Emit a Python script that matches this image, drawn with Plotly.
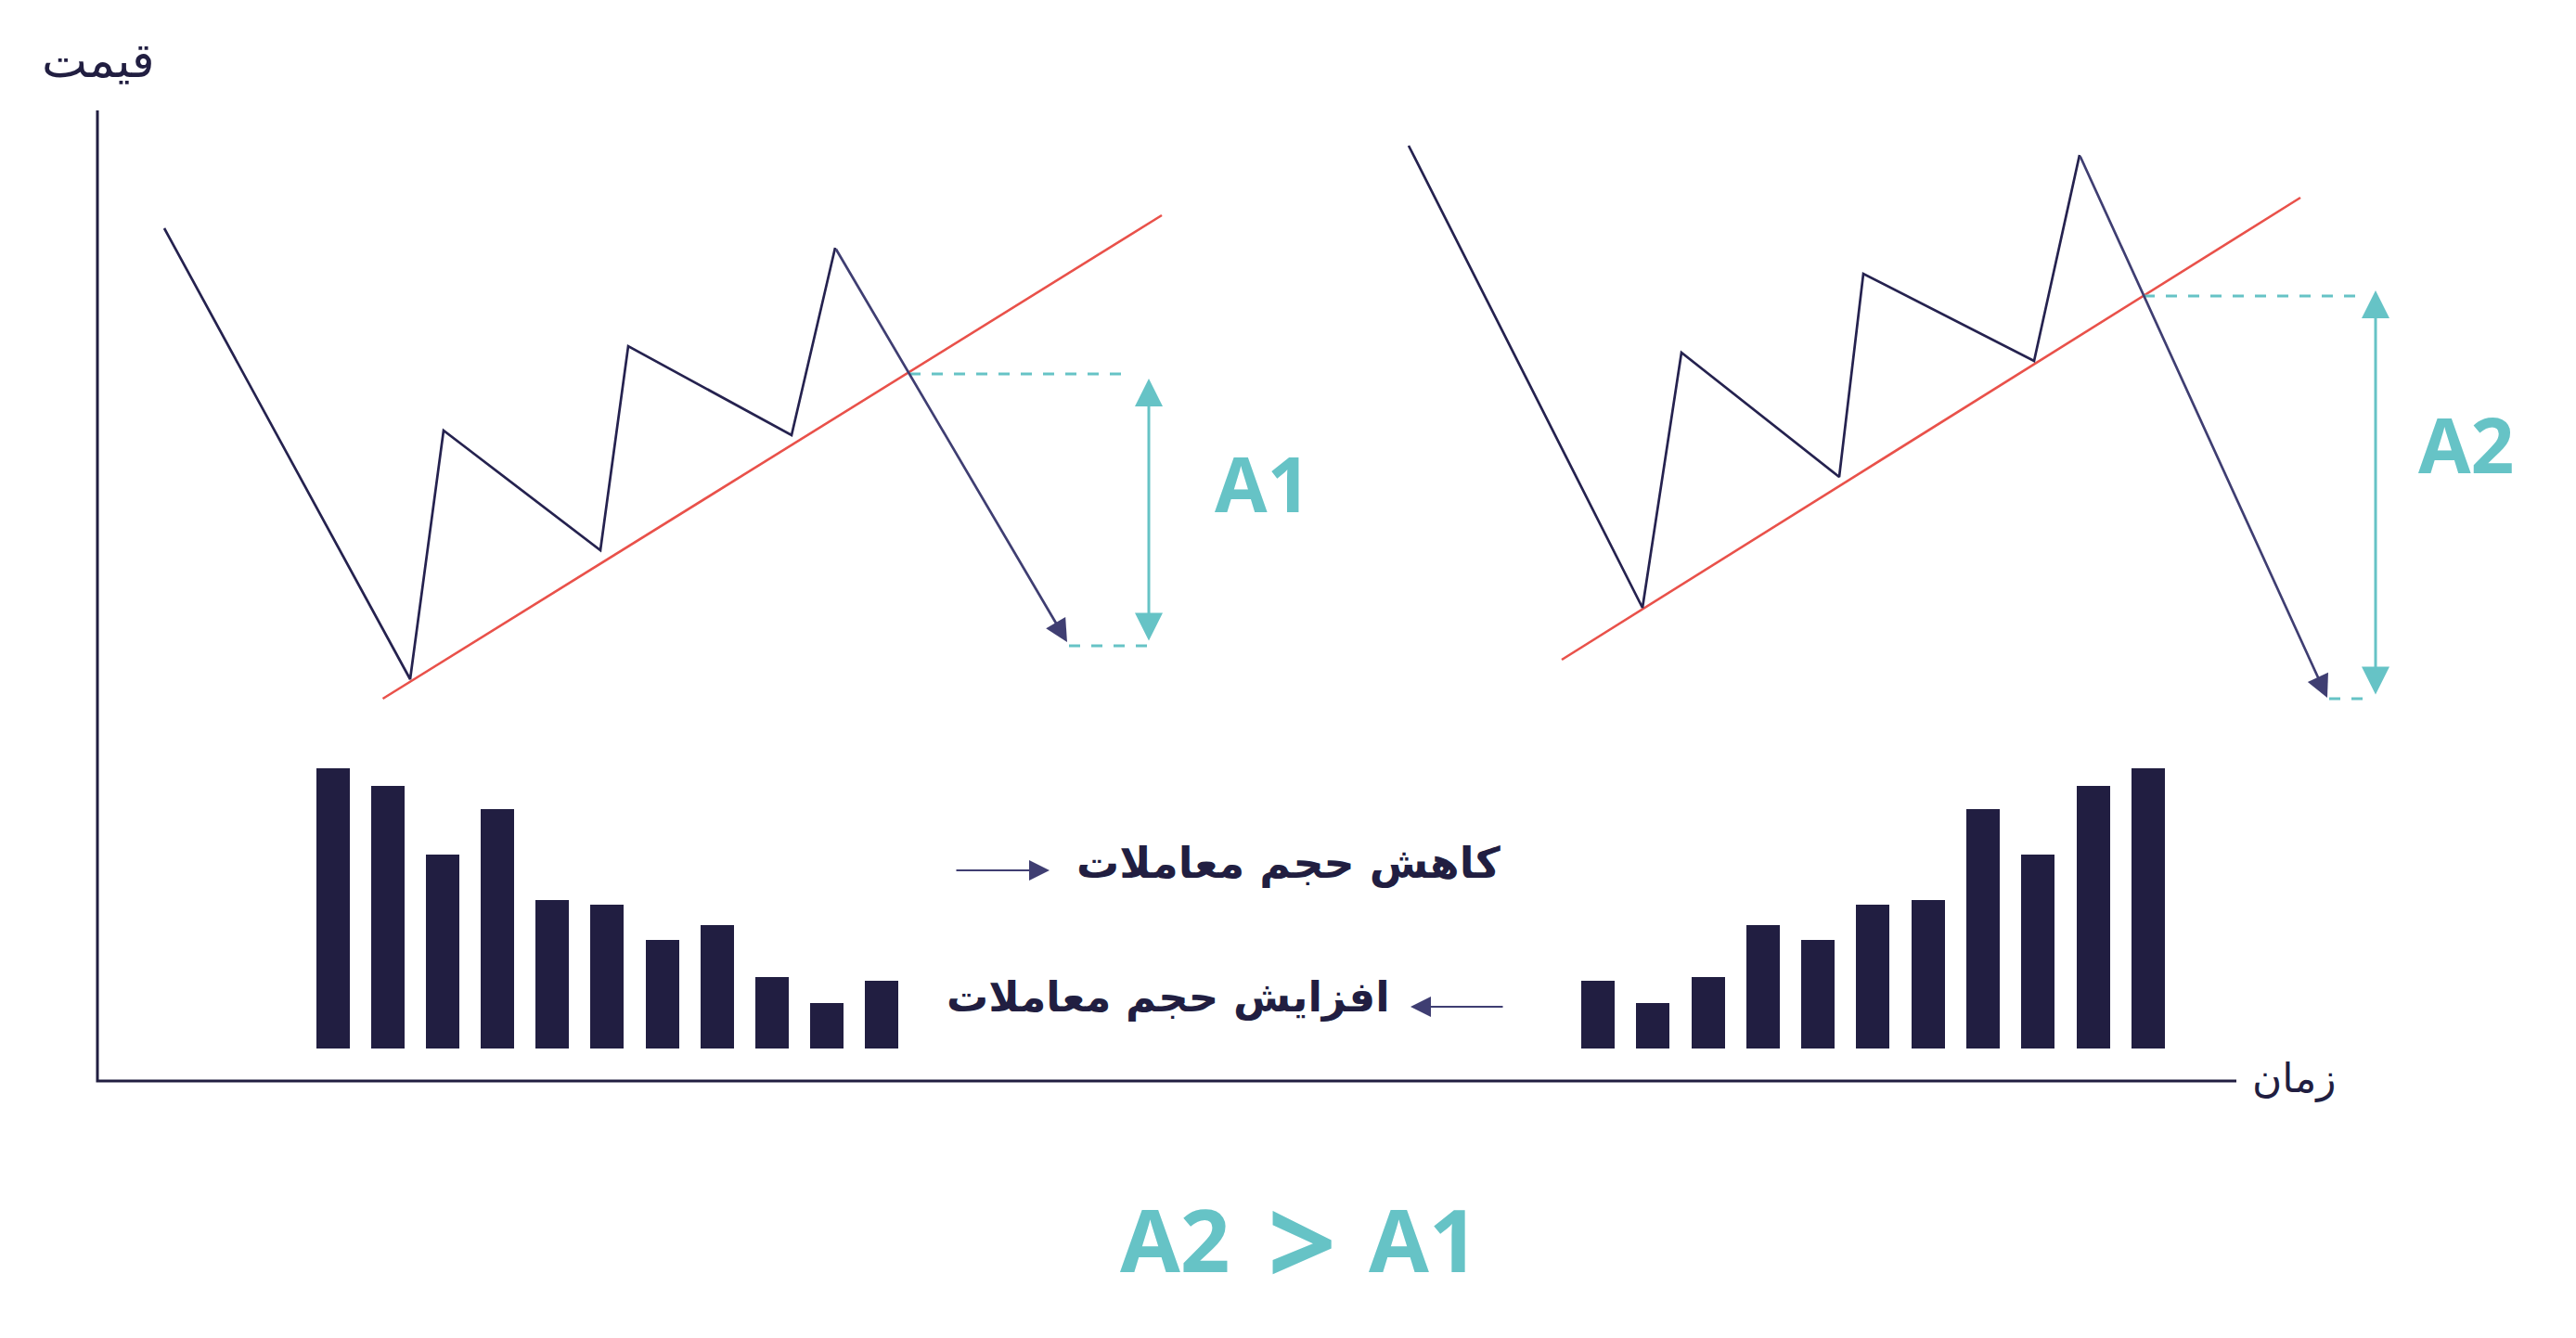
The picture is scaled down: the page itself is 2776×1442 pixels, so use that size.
import plotly.graph_objects as go

# ---- colours ----
NAVY = "#211e41"
LINE_NAVY = "#25224f"
HEAD_NAVY = "#3f3e72"
RED = "#e9514a"
TEAL = "#66c3c6"

# ---- axes extents (time / price units) ----
axis_x_time = [0, 0, 230.5]
axis_x_price = [104.6, 0, 0]

# ---- price paths ----
left_time = [7.2, 33.7, 37.3, 54.2, 57.2, 74.8, 79.5, 104.5]
left_price = [91.9, 43.3, 70.1, 57.2, 79.2, 69.6, 89.8, 47.3]
right_time = [141.3, 166.5, 170.7, 187.7, 190.3, 208.7, 213.6, 240.3]
right_price = [100.8, 51.0, 78.5, 65.1, 87.0, 77.6, 99.8, 41.3]

# ---- trend lines ----
left_trend_time = [30.75, 114.7]
left_trend_price = [41.2, 93.3]
right_trend_time = [157.8, 237.4]
right_trend_price = [45.4, 95.2]

# ---- target measurement (A1 / A2) ----
left_top_dash_time = [87.5, 111.0]
left_top_dash_price = [76.2, 76.2]
left_bot_dash_time = [104.7, 113.3]
left_bot_dash_price = [46.9, 46.9]
left_span_time = 113.3
left_span_price = [75.7, 47.3]

right_top_dash_time = [220.5, 243.7]
right_top_dash_price = [84.6, 84.6]
right_bot_dash_time = [240.5, 245.1]
right_bot_dash_price = [41.2, 41.2]
right_span_time = 245.5
right_span_price = [85.2, 41.5]

# ---- volume bars ----
vol_base = 3.5
left_vol_time = [25.4, 31.3, 37.2, 43.1, 49.0, 54.9, 60.9, 66.8, 72.7, 78.6, 84.5]
left_vol = [30.2, 28.3, 20.9, 25.8, 16.0, 15.5, 11.7, 13.3, 7.7, 4.9, 7.3]
right_vol_time = [161.7, 167.6, 173.6, 179.5, 185.4, 191.3, 197.3, 203.2, 209.1, 215.1, 221.0]
right_vol = [7.3, 4.9, 7.7, 13.3, 11.7, 15.5, 16.0, 25.8, 20.9, 28.3, 30.2]

# ---- labels ----
y_label = "قیمت"
x_label = "زمان"
label_dec = "کاهش حجم معاملات"
label_inc = "افزایش حجم معاملات"
dec_arrow_time = [92.4, 102.6]
dec_arrow_price = 22.7
inc_arrow_time = [151.6, 141.5]
inc_arrow_price = 8.0
compare_text = ["A2", "&gt;", "A1"]
compare_time = [116.1, 129.8, 142.9]

fig = go.Figure()

# axes
fig.add_trace(go.Scatter(x=axis_x_time, y=axis_x_price, mode="lines",
                         line=dict(color=NAVY, width=3), hoverinfo="skip"))

# volume
for xs, ys in ((left_vol_time, left_vol), (right_vol_time, right_vol)):
    fig.add_trace(go.Bar(x=xs, y=ys, base=vol_base, width=3.6,
                         marker=dict(color=NAVY, line=dict(width=0))))

# trend lines
for xs, ys in ((left_trend_time, left_trend_price), (right_trend_time, right_trend_price)):
    fig.add_trace(go.Scatter(x=xs, y=ys, mode="lines",
                             line=dict(color=RED, width=2.6), hoverinfo="skip"))

# dashed guides
for xs, ys in ((left_top_dash_time, left_top_dash_price), (left_bot_dash_time, left_bot_dash_price),
               (right_top_dash_time, right_top_dash_price), (right_bot_dash_time, right_bot_dash_price)):
    fig.add_trace(go.Scatter(x=xs, y=ys, mode="lines",
                             line=dict(color=TEAL, width=3, dash="12px,12px"), hoverinfo="skip"))

# price paths
for xs, ys in ((left_time, left_price), (right_time, right_price)):
    fig.add_trace(go.Scatter(x=xs[:-1], y=ys[:-1], mode="lines",
                             line=dict(color=LINE_NAVY, width=2.7), hoverinfo="skip"))
    # last leg with arrow head
    fig.add_annotation(x=xs[-1], y=ys[-1], ax=xs[-2], ay=ys[-2],
                       xref="x", yref="y", axref="x", ayref="y", text="",
                       showarrow=True, arrowhead=2, arrowsize=1.8, arrowwidth=2.7,
                       arrowcolor=HEAD_NAVY)

# double arrows A1 / A2
for t, ps in ((left_span_time, left_span_price), (right_span_time, right_span_price)):
    fig.add_annotation(x=t, y=ps[0], ax=t, ay=ps[1],
                       xref="x", yref="y", axref="x", ayref="y", text="",
                       showarrow=True, arrowhead=2, startarrowhead=2, arrowside="end+start",
                       arrowsize=2, startarrowsize=2, arrowwidth=3, arrowcolor=TEAL)

# volume arrows
fig.add_annotation(x=dec_arrow_time[1], y=dec_arrow_price, ax=dec_arrow_time[0], ay=dec_arrow_price,
                   xref="x", yref="y", axref="x", ayref="y", text="",
                   showarrow=True, arrowhead=2, arrowsize=2, arrowwidth=2.2, arrowcolor=HEAD_NAVY)
fig.add_annotation(x=inc_arrow_time[1], y=inc_arrow_price, ax=inc_arrow_time[0], ay=inc_arrow_price,
                   xref="x", yref="y", axref="x", ayref="y", text="",
                   showarrow=True, arrowhead=2, arrowsize=2, arrowwidth=2.2, arrowcolor=HEAD_NAVY)

fa_bold = dict(family="DejaVu Sans", color=NAVY, weight="bold")
fa_light = dict(family="DejaVu Sans", color=NAVY)
teal_font = dict(family="Open Sans", color=TEAL, weight="bold")

fig.add_annotation(x=105.3, y=23.5, text=label_dec, showarrow=False,
                   xanchor="left", yanchor="middle", font=dict(fa_bold, size=46))
fig.add_annotation(x=139.5, y=9.1, text=label_inc, showarrow=False,
                   xanchor="right", yanchor="middle", font=dict(fa_bold, size=45))
fig.add_annotation(x=0.1, y=110.0, text=y_label, showarrow=False,
                   xanchor="center", yanchor="middle", font=dict(fa_light, size=52))
fig.add_annotation(x=236.7, y=0.3, text=x_label, showarrow=False,
                   xanchor="center", yanchor="middle", font=dict(fa_light, size=44))

fig.add_annotation(x=125.5, y=64.5, text="A1", showarrow=False,
                   xanchor="center", yanchor="middle", font=dict(teal_font, size=82))
fig.add_annotation(x=255.2, y=68.7, text="A2", showarrow=False,
                   xanchor="center", yanchor="middle", font=dict(teal_font, size=82))

# bottom comparison "A2 > A1"
for txt, t in zip(compare_text, compare_time):
    size = 130 if txt == "&gt;" else 94
    fig.add_annotation(x=t, y=-17.0, text=txt, showarrow=False,
                       xanchor="center", yanchor="middle", font=dict(teal_font, size=size))

# the page body adds an 8px offset, so the ranges are nudged to compensate
fig.update_layout(
    width=2776, height=1442,
    margin=dict(l=0, r=0, t=0, b=0),
    plot_bgcolor="white", paper_bgcolor="white",
    showlegend=False, bargap=0,
    xaxis=dict(range=[-9.7, 267.9], visible=False, fixedrange=True),
    yaxis=dict(range=[-28.5, 115.7], visible=False, fixedrange=True),
)

fig.write_html("out.html")
